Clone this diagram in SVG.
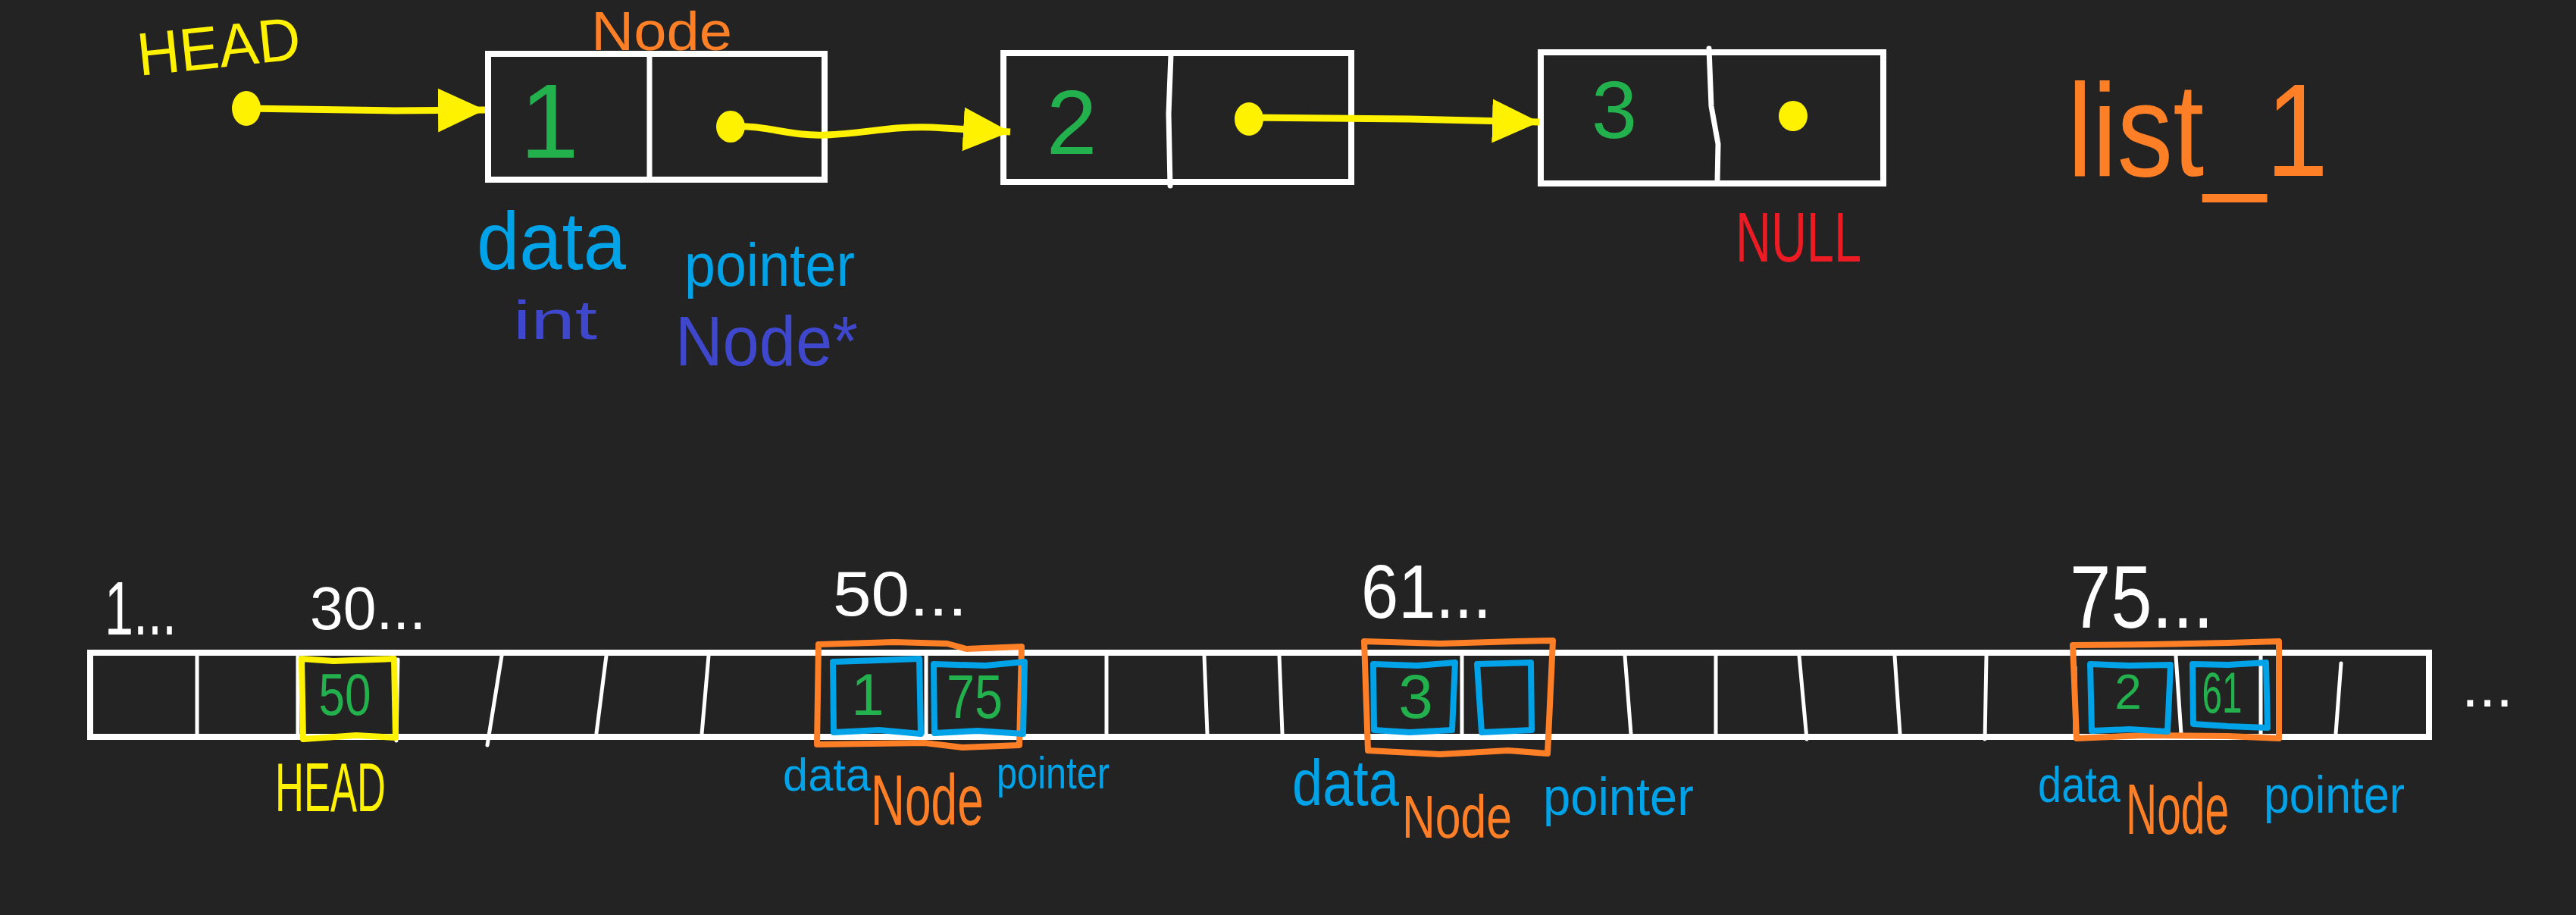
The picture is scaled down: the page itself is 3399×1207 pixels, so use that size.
<svg xmlns="http://www.w3.org/2000/svg" width="3399" height="1207" viewBox="0 0 3399 1207">
<style>
text{font-family:"Liberation Sans","DejaVu Sans",sans-serif;}
.box{fill:none;stroke:#ffffff;stroke-width:8;}
.div{stroke:#ffffff;stroke-width:5;stroke-linecap:round;fill:none;}
.ndiv{stroke:#ffffff;stroke-width:7;stroke-linecap:round;fill:none;}
.y{fill:#fff200;}
.g{fill:#22b14c;}
.o{fill:#ff7f27;}
.b{fill:#00a2e8;}
.v{fill:#3f48cc;}
.r{fill:#ed1c24;}
.w{fill:#ffffff;}
.conn{fill:none;stroke:#fff200;stroke-width:9;stroke-linecap:butt;}
.ob{fill:none;stroke:#ff7f27;stroke-width:8;stroke-linejoin:round;}
.bb{fill:none;stroke:#00a2e8;stroke-width:8;stroke-linejoin:round;}
.yb{fill:none;stroke:#fff200;stroke-width:8;stroke-linejoin:round;}
</style>
<defs>
<marker id="ah" markerUnits="userSpaceOnUse" markerWidth="64" markerHeight="60" viewBox="0 0 64 60" refX="62" refY="30" orient="auto">
<path d="M0,1 L62,30 L0,59 Z" fill="#fff200"/>
</marker>
</defs>
<rect width="3399" height="1207" fill="#232323"/>

<!-- top: linked list -->
<g id="head-top">
<text class="y" x="184" y="100" font-size="80" textLength="216" lengthAdjust="spacingAndGlyphs" transform="rotate(-6 184 100)">HEAD</text>
</g>
<g id="node-label-top">
<text class="o" x="780" y="66" font-size="72" textLength="186" lengthAdjust="spacingAndGlyphs">Node</text>
</g>
<g id="node1">
<rect class="box" x="644" y="71" width="444" height="166"/>
<line class="ndiv" x1="857" y1="73" x2="857" y2="235"/>
<text class="g" x="725" y="208" font-size="140" text-anchor="middle">1</text>
</g>
<g id="node2">
<rect class="box" x="1324" y="70" width="459" height="170"/>
<path class="ndiv" d="M1545,72 L1542,150 L1544,245"/>
<text class="g" x="1414" y="203" font-size="120" text-anchor="middle">2</text>
</g>
<g id="node3">
<rect class="box" x="2033" y="69" width="452" height="173"/>
<path class="ndiv" d="M2255,64 L2258,140 L2267,190 L2266,240"/>
<text class="g" x="2130" y="182" font-size="108" text-anchor="middle">3</text>
<ellipse cx="2366" cy="153" rx="19" ry="20" fill="#fff200"/>
</g>
<g id="null-label">
<text class="r" x="2290" y="345" font-size="92" textLength="166" lengthAdjust="spacingAndGlyphs">NULL</text>
</g>
<g id="list-title">
<text class="o" x="2728" y="232" font-size="175" textLength="344" lengthAdjust="spacingAndGlyphs">list_1</text>
</g>
<g id="field-labels">
<text class="b" x="629" y="355" font-size="108" textLength="197" lengthAdjust="spacingAndGlyphs">data</text>
<text class="b" x="903" y="377" font-size="80" textLength="225" lengthAdjust="spacingAndGlyphs">pointer</text>
<text class="v" x="677" y="447" font-size="72" textLength="111" lengthAdjust="spacingAndGlyphs">int</text>
<text class="v" x="891" y="482" font-size="92" textLength="241" lengthAdjust="spacingAndGlyphs">Node*</text>
</g>

<g id="connectors">
<ellipse cx="325" cy="143" rx="19" ry="23" fill="#fff200"/>
<path class="conn" d="M325,143 L520,146 L640,145" marker-end="url(#ah)"/>
<ellipse cx="964" cy="167" rx="19" ry="21" fill="#fff200"/>
<path class="conn" d="M964,167 C1010,164 1040,180 1090,178 C1140,176 1180,166 1230,168 L1333,174" marker-end="url(#ah)"/>
<ellipse cx="1648" cy="157" rx="19" ry="22" fill="#fff200"/>
<path class="conn" d="M1648,155 L1860,157 L2031,161" marker-end="url(#ah)"/>
</g>

<!-- bottom: memory -->
<g id="memory">
<rect class="box" x="119" y="861" width="3086" height="111"/>
<line class="div" x1="260" y1="865" x2="260" y2="968"/>
<line class="div" x1="393" y1="865" x2="393" y2="972"/>
<line class="div" x1="525" y1="870" x2="523" y2="977"/>
<line class="div" x1="662" y1="865" x2="643" y2="983"/>
<line class="div" x1="800" y1="865" x2="787" y2="967"/>
<line class="div" x1="935" y1="865" x2="926" y2="968"/>
<line class="div" x1="1222" y1="865" x2="1222" y2="972"/>
<line class="div" x1="1460" y1="865" x2="1460" y2="968"/>
<line class="div" x1="1589" y1="865" x2="1593" y2="968"/>
<line class="div" x1="1688" y1="865" x2="1692" y2="968"/>
<line class="div" x1="1929" y1="865" x2="1929" y2="972"/>
<line class="div" x1="2144" y1="865" x2="2152" y2="968"/>
<line class="div" x1="2264" y1="865" x2="2264" y2="968"/>
<line class="div" x1="2374" y1="865" x2="2384" y2="975"/>
<line class="div" x1="2500" y1="865" x2="2507" y2="968"/>
<line class="div" x1="2621" y1="865" x2="2619" y2="975"/>
<line class="div" x1="2738" y1="880" x2="2738" y2="968"/>
<line class="div" x1="2871" y1="865" x2="2878" y2="968"/>
<line class="div" x1="2983" y1="865" x2="2983" y2="972"/>
<line class="div" x1="3089" y1="875" x2="3082" y2="968"/>
</g>
<g id="addr-labels">
<text class="w" x="138" y="837" font-size="100" textLength="95" lengthAdjust="spacingAndGlyphs">1...</text>
<text class="w" x="409" y="830" font-size="80" textLength="153" lengthAdjust="spacingAndGlyphs">30...</text>
<text class="w" x="1099" y="812" font-size="84" textLength="177" lengthAdjust="spacingAndGlyphs">50...</text>
<text class="w" x="1796" y="815" font-size="100" textLength="172" lengthAdjust="spacingAndGlyphs">61...</text>
<text class="w" x="2731" y="828" font-size="116" textLength="190" lengthAdjust="spacingAndGlyphs">75...</text>
<text class="w" x="3248" y="932" font-size="80" textLength="68" lengthAdjust="spacingAndGlyphs">...</text>
</g>
<g id="head-cell">
<path class="yb" d="M398,869 L440,872 L520,869 L522,973 L470,970 L400,975 Z"/>
<text class="g" x="455" y="943" font-size="78" text-anchor="middle" textLength="69" lengthAdjust="spacingAndGlyphs">50</text>
<text class="y" x="363" y="1070" font-size="90" textLength="146" lengthAdjust="spacingAndGlyphs">HEAD</text>
</g>
<g id="mem-node1">
<path class="ob" d="M1080,850 L1180,847 L1250,849 L1275,856 L1348,853 L1345,983 L1270,986 L1220,980 L1078,982 Z"/>
<path class="bb" d="M1099,873 L1160,871 L1213,869 L1215,968 L1160,963 L1100,966 Z"/>
<path class="bb" d="M1232,876 L1300,878 L1352,873 L1350,968 L1290,964 L1233,967 Z"/>
<text class="g" x="1145" y="943" font-size="78" text-anchor="middle">1</text>
<text class="g" x="1286" y="947" font-size="82" text-anchor="middle" textLength="74" lengthAdjust="spacingAndGlyphs">75</text>
<text class="b" x="1033" y="1043" font-size="62" textLength="116" lengthAdjust="spacingAndGlyphs">data</text>
<text class="o" font-size="95" transform="translate(1149 1088) scale(0.655 1)">Node</text>
<text class="b" x="1315" y="1040" font-size="60" textLength="149" lengthAdjust="spacingAndGlyphs">pointer</text>
</g>
<g id="mem-node3">
<path class="ob" d="M1800,846 L1900,849 L2000,846 L2049,845 L2042,994 L1990,990 L1900,995 L1805,990 Z"/>
<path class="bb" d="M1812,876 L1870,878 L1920,874 L1916,963 L1860,966 L1813,963 Z"/>
<path class="bb" d="M1949,876 L2020,874 L2021,963 L1955,966 Z"/>
<text class="g" x="1868" y="947" font-size="82" text-anchor="middle">3</text>
<text class="b" x="1705" y="1062" font-size="86" textLength="141" lengthAdjust="spacingAndGlyphs">data</text>
<text class="o" x="1850" y="1105" font-size="80" textLength="145" lengthAdjust="spacingAndGlyphs">Node</text>
<text class="b" x="2036" y="1075" font-size="70" textLength="199" lengthAdjust="spacingAndGlyphs">pointer</text>
</g>
<g id="mem-node2">
<path class="ob" d="M2735,851 L2840,850 L2940,848 L3007,846 L3007,974 L2940,971 L2830,970 L2740,974 Z"/>
<path class="bb" d="M2758,876 L2810,878 L2864,877 L2860,965 L2810,962 L2760,964 Z"/>
<path class="bb" d="M2893,876 L2940,877 L2990,874 L2992,960 L2940,958 L2894,955 Z"/>
<text class="g" x="2808" y="935" font-size="64" text-anchor="middle">2</text>
<text class="g" x="2932" y="940" font-size="76" text-anchor="middle" textLength="53" lengthAdjust="spacingAndGlyphs">61</text>
<text class="b" x="2689" y="1058" font-size="66" textLength="109" lengthAdjust="spacingAndGlyphs">data</text>
<text class="o" font-size="95" transform="translate(2805 1100) scale(0.6 1)">Node</text>
<text class="b" x="2987" y="1072" font-size="68" textLength="186" lengthAdjust="spacingAndGlyphs">pointer</text>
</g>
</svg>
